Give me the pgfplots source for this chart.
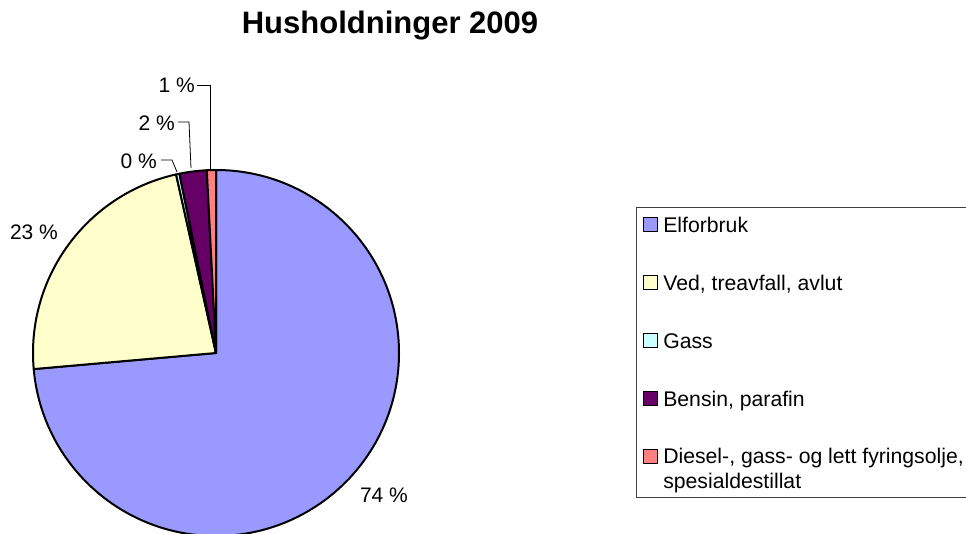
\documentclass[border=0pt]{standalone}
\usepackage{pgfplots}
\pgfplotsset{compat=1.18}
\usepackage{fontspec}
\setmainfont{Liberation Sans}
\definecolor{cEl}{HTML}{9999FF}
\definecolor{cVed}{HTML}{FFFFCC}
\definecolor{cGass}{HTML}{CCFFFF}
\definecolor{cBen}{HTML}{660066}
\definecolor{cDie}{HTML}{FF8080}
\pgfplotsset{
  sq/.style={legend image code/.code={\draw[##1] (0bp,0.5bp) rectangle (14bp,14.5bp);}},
  sqlast/.style={legend image code/.code={\draw[##1] (0bp,0.5bp) rectangle (14bp,14.5bp);\path (0bp,-27.5bp);}},
}
\newcommand\lblfont{\fontsize{21bp}{25bp}\selectfont}
\newcommand\lstrut{\rule[-4bp]{0pt}{21bp}}
\begin{document}
\begin{tikzpicture}
\useasboundingbox (0,0) rectangle (966bp,534bp);
% shares in percent
\def\pEl{73.6}\def\pVed{22.9}\def\pGass{0.3}\def\pBen{2.4}\def\pDie{0.8}
\def\R{183bp}
\pgfmathsetmacro\aA{90}
\pgfmathsetmacro\aB{\aA-3.6*\pEl}
\pgfmathsetmacro\aC{\aB-3.6*\pVed}
\pgfmathsetmacro\aD{\aC-3.6*\pGass}
\pgfmathsetmacro\aE{\aD-3.6*\pBen}
\pgfmathsetmacro\aF{\aE-3.6*\pDie}
\begin{axis}[
  at={(0,0)}, anchor=origin,
  x=1bp, y=1bp, xmin=0, xmax=966, ymin=0, ymax=534,
  hide axis, clip=false,
  legend style={at={(axis description cs:0.6584,0.6124)}, anchor=north west,
    draw=black!75, line width=1.2bp,
    font=\fontsize{21.2bp}{25bp}\selectfont,
    inner xsep=6bp, inner ysep=5.5bp, row sep=35.5bp,
    cells={anchor=base west, inner sep=0pt},
    /tikz/every odd column/.append style={column sep=3.5bp}},
]
\addlegendimage{sq, fill=cEl, draw=black, line width=1.2bp}
\addlegendentry{\lstrut Elforbruk}
\addlegendimage{sq, fill=cVed, draw=black, line width=1.2bp}
\addlegendentry{\lstrut Ved, treavfall, avlut}
\addlegendimage{sq, fill=cGass, draw=black, line width=1.2bp}
\addlegendentry{\lstrut Gass}
\addlegendimage{sq, fill=cBen, draw=black, line width=1.2bp}
\addlegendentry{\lstrut Bensin, parafin}
\addlegendimage{sqlast, fill=cDie, draw=black, line width=1.2bp}
\addlegendentry{\vtop{\hbox{\lstrut Diesel-, gass- og lett fyringsolje,}\hbox{\lstrut spesialdestillat}}}

% leader lines
\draw[line width=0.8bp] (axis cs:197,449) -- (axis cs:210,449) -- (axis cs:210,364);
\draw[line width=0.8bp] (axis cs:178,412) -- (axis cs:189,412) -- (axis cs:191,366);
\draw[line width=0.8bp] (axis cs:161,374) -- (axis cs:172,374) -- (axis cs:177,362);

% slices
\filldraw[fill=cEl, draw=black, line width=2bp, line join=round] (axis cs:216,181) -- ++(\aA:\R) arc[start angle=\aA, end angle=\aB, radius=\R] -- cycle;
\filldraw[fill=cVed, draw=black, line width=2bp, line join=round] (axis cs:216,181) -- ++(\aB:\R) arc[start angle=\aB, end angle=\aC, radius=\R] -- cycle;
\filldraw[fill=cGass, draw=black, line width=2bp, line join=round] (axis cs:216,181) -- ++(\aC:\R) arc[start angle=\aC, end angle=\aD, radius=\R] -- cycle;
\filldraw[fill=cBen, draw=black, line width=2bp, line join=round] (axis cs:216,181) -- ++(\aD:\R) arc[start angle=\aD, end angle=\aE, radius=\R] -- cycle;
\filldraw[fill=cDie, draw=black, line width=2bp, line join=round] (axis cs:216,181) -- ++(\aE:\R) arc[start angle=\aE, end angle=\aF, radius=\R] -- cycle;

% labels
\node[font=\bfseries\fontsize{31bp}{36bp}\selectfont] at (axis cs:390,508) {Husholdninger 2009};
\node[font=\lblfont] at (axis cs:384,39) {74 \%};
\node[font=\lblfont] at (axis cs:34,302) {23 \%};
\node[font=\lblfont, anchor=east, inner sep=0pt] at (axis cs:157,373) {0 \%};
\node[font=\lblfont, anchor=east, inner sep=0pt] at (axis cs:175,411) {2 \%};
\node[font=\lblfont, anchor=east, inner sep=0pt] at (axis cs:195,449) {1 \%};
\end{axis}
\end{tikzpicture}
\end{document}
